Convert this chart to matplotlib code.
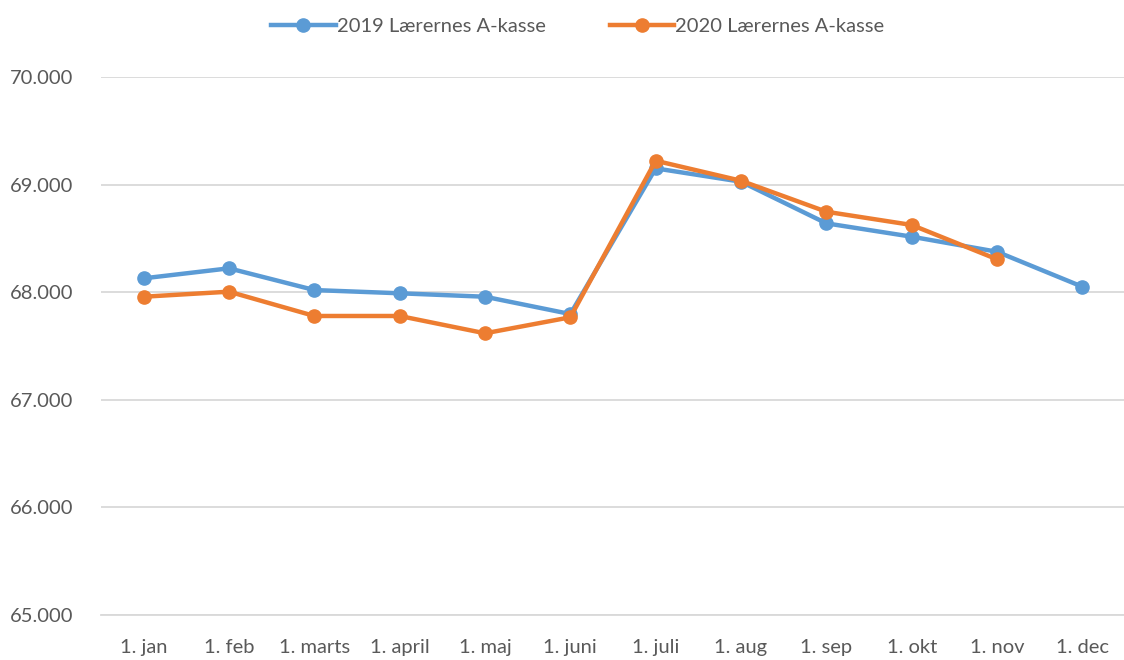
import matplotlib
matplotlib.use("Agg")
import matplotlib.pyplot as plt
from matplotlib.ticker import FuncFormatter, MultipleLocator

months = ["1. jan", "1. feb", "1. marts", "1. april", "1. maj", "1. juni",
          "1. juli", "1. aug", "1. sep", "1. okt", "1. nov", "1. dec"]
series_2019 = [68129, 68222, 68020, 67990, 67958, 67797,
               69151, 69027, 68640, 68516, 68376, 68051]
series_2020 = [67958, 68005, 67779, 67779, 67618, 67767,
               69222, 69036, 68748, 68625, 68306]
label_2019 = "2019 Lærernes A-kasse"
label_2020 = "2020 Lærernes A-kasse"

plt.rcParams['font.family'] = ['Lato', 'DejaVu Sans']
text_color = "#595959"

fig = plt.figure(figsize=(11.24, 6.60), dpi=100)
ax = fig.add_axes([0.0899, 0.0682, 0.911, 0.8151])

x19 = list(range(len(series_2019)))
x20 = list(range(len(series_2020)))
ax.plot(x19, series_2019, color="#5B9BD5", lw=3.2, marker="o", ms=9.5,
        label=label_2019, solid_joinstyle="round", zorder=3)
ax.plot(x20, series_2020, color="#ED7D31", lw=3.2, marker="o", ms=9.5,
        label=label_2020, solid_joinstyle="round", zorder=4)

ax.set_xlim(-0.5, len(months) - 0.5)
ax.set_ylim(65000, 70000)
ax.yaxis.set_major_locator(MultipleLocator(1000))
ax.yaxis.set_major_formatter(FuncFormatter(lambda v, p: f"{v:,.0f}".replace(",", ".")))
ax.set_xticks(range(len(months)))
ax.set_xticklabels(months)
ax.grid(axis="y", color="#D9D9D9", lw=1.3)
ax.set_axisbelow(True)
for s in ["top", "right", "left"]:
    ax.spines[s].set_visible(False)
ax.spines["bottom"].set_color("#D9D9D9")
ax.spines["bottom"].set_linewidth(1.3)
ax.tick_params(axis="both", length=0, labelsize=14.5, labelcolor=text_color)
ax.tick_params(axis="y", pad=20)
ax.tick_params(axis="x", pad=17)

leg = fig.legend(loc="upper center", bbox_to_anchor=(0.514, 1.0), ncol=2,
                 frameon=False, fontsize=14.5, handlelength=3.2,
                 columnspacing=3.2, handletextpad=0.05)
for t in leg.get_texts():
    t.set_color(text_color)

fig.savefig("out.png", dpi=100)
